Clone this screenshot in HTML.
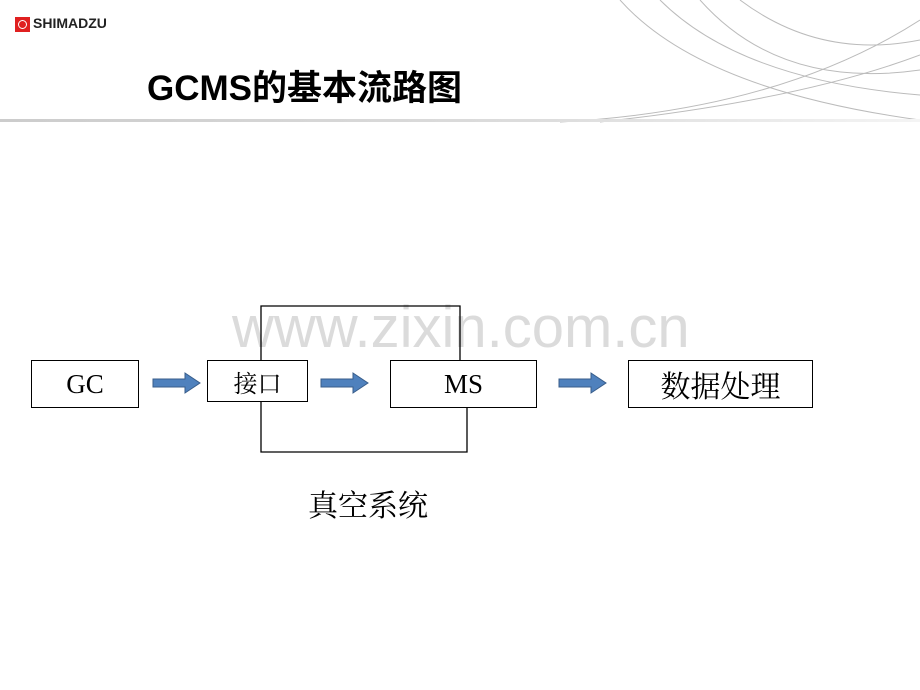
<!DOCTYPE html>
<html><head><meta charset="utf-8"><style>
html,body{margin:0;padding:0;background:#fff;}
body{width:920px;height:690px;position:relative;overflow:hidden;font-family:"Liberation Serif","Noto Serif CJK SC",serif;}
.box{position:absolute;border:1px solid #000;background:#fff;box-sizing:border-box;display:flex;align-items:center;justify-content:center;font-size:27px;color:#000;}
.t{position:absolute;}
</style></head><body>
<div class="t" style="left:232px;top:294px;font:58px 'Liberation Sans',sans-serif;color:rgba(190,190,190,0.55);white-space:nowrap;">www.zixin.com.cn</div>
<svg width="920" height="690" style="position:absolute;left:0;top:0">
  <defs>
    <linearGradient id="hl" x1="0" x2="1">
      <stop offset="0" stop-color="#ccc"/><stop offset="0.6" stop-color="#ddd"/><stop offset="1" stop-color="#f4f4f4"/>
    </linearGradient>
  </defs>
  <g fill="none" stroke="#bbb" stroke-width="1">
    <path d="M620 0 Q700 90 920 120"/>
    <path d="M660 0 Q740 80 920 95"/>
    <path d="M700 0 Q780 90 920 70"/>
    <path d="M740 0 Q820 60 920 40"/>
    <path d="M560 122 Q780 110 920 20"/>
    <path d="M600 122 Q800 100 920 55"/>
  </g>
  <rect x="0" y="119" width="920" height="3" fill="url(#hl)"/>
  <g fill="none" stroke="#000" stroke-width="1.3">
    <polyline points="261,360 261,306 460,306 460,360"/>
    <polyline points="261,401 261,452 467,452 467,407"/>
  </g>
  <g fill="#4f81bd" stroke="#385d8a" stroke-width="1">
    <path d="M153 379 h32 v-6 l15 10 l-15 10 v-6 h-32 z"/>
    <path d="M321 379 h32 v-6 l15 10 l-15 10 v-6 h-32 z"/>
    <path d="M559 379 h32 v-6 l15 10 l-15 10 v-6 h-32 z"/>
  </g>
</svg>
<div class="t" style="left:15px;top:17px;width:15px;height:15px;background:#e02020;"></div>
<div class="t" style="left:18px;top:20px;width:7px;height:7px;border:1.5px solid #fff;border-radius:50%;"></div>
<div class="t" style="left:33px;top:15px;font:bold 14px 'Liberation Sans',sans-serif;color:#222;">SHIMADZU</div>
<div class="t" style="left:147px;top:60px;font:bold 35px 'Liberation Sans','Noto Sans CJK SC',sans-serif;color:#000;white-space:nowrap;">GCMS的基本流路图</div>
<div class="box" style="left:31px;top:360px;width:108px;height:48px;">GC</div>
<div class="box" style="left:207px;top:360px;width:101px;height:42px;font-size:24px;">接口</div>
<div class="box" style="left:390px;top:360px;width:147px;height:48px;">MS</div>
<div class="box" style="left:628px;top:360px;width:185px;height:48px;font-size:30px;">数据处理</div>
<div class="t" style="left:308px;top:481px;font-size:30px;">真空系统</div>
</body></html>
